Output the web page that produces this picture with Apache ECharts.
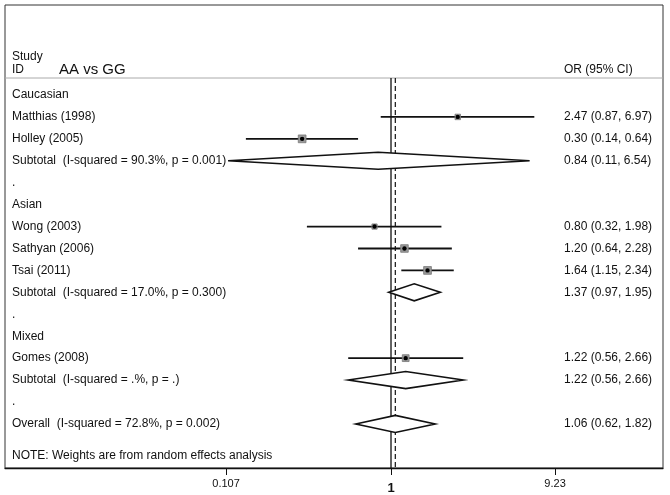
<!DOCTYPE html>
<html>
<head>
<meta charset="utf-8">
<script src="https://cdn.jsdelivr.net/npm/echarts@6/dist/echarts.min.js"></script>
<style>html,body{margin:0;padding:0;background:#fff}#c{width:670px;height:495px}</style>
</head>
<body>
<div id="c"></div>
<script>
// ---- data ----
const rowLabels = ['Caucasian','Matthias (1998)','Holley (2005)','Subtotal  (I-squared = 90.3%, p = 0.001)','.',
  'Asian','Wong (2003)','Sathyan (2006)','Tsai (2011)','Subtotal  (I-squared = 17.0%, p = 0.300)','.',
  'Mixed','Gomes (2008)','Subtotal  (I-squared = .%, p = .)','.','Overall  (I-squared = 72.8%, p = 0.002)'];
const rowTypes = ['head','study','study','pooled','blank','head','study','study','study','pooled','blank',
  'head','study','pooled','blank','pooled'];
const orValues = [null,2.47,0.30,0.84,null,null,0.80,1.20,1.64,1.37,null,null,1.22,1.22,null,1.06];
const ciLower  = [null,0.87,0.14,0.11,null,null,0.32,0.64,1.15,0.97,null,null,0.56,0.56,null,0.62];
const ciUpper  = [null,6.97,0.64,6.54,null,null,1.98,2.28,2.34,1.95,null,null,2.66,2.66,null,1.82];
const weights  = [null,11,22,null,null,null,10,21,22,null,null,null,17,null,null,null];
const tickValues = [0.107, 1, 9.23];
const tickLabels = ['0.107', '1', '9.23'];
const headerStudy = 'Study', headerId = 'ID', headerTitle = 'AA vs GG', headerEffect = 'OR (95% CI)';
const noteText = 'NOTE: Weights are from random effects analysis';

// ---- chart ----
const FONT = '"Liberation Sans", Arial, sans-serif';
const X_MIN = -5.2297, X_MAX = 3.685;
const Y_MIN = -4.104, Y_MAX = 17.01, SEP_ROW = -0.775;
const fmt = v => v.toFixed(2);
const chart = echarts.init(document.getElementById('c'));

function renderRow(params, api) {
  const i = params.dataIndex;
  const type = rowTypes[i];
  const yc = api.coord([0, i])[1];
  const left = api.coord([X_MIN, i])[0];
  const children = [];
  children.push({type:'text', x: left + 7, y: yc,
    style:{text: rowLabels[i], fontSize:12, fontFamily:FONT, fill:'#111', align:'left', verticalAlign:'middle'}});
  if (orValues[i] != null) {
    const xo = api.coord([Math.log(orValues[i]), i])[0];
    const xl = api.coord([Math.log(ciLower[i]), i])[0];
    const xh = api.coord([Math.log(ciUpper[i]), i])[0];
    if (type === 'study') {
      const s = 1.65 * Math.sqrt(weights[i]);
      children.push({type:'line', shape:{x1:xl, y1:yc, x2:xh, y2:yc}, style:{stroke:'#111', lineWidth:1.8}});
      children.push({type:'rect', shape:{x:xo - s/2, y:yc - s/2, width:s, height:s}, style:{fill:'#9a9a9a', stroke:'#777', lineWidth:0.8}});
      children.push({type:'circle', shape:{cx:xo, cy:yc, r:2.2}, style:{fill:'#000'}});
    } else {
      const h = 8.5;
      children.push({type:'polygon', shape:{points:[[xl,yc],[xo,yc-h],[xh,yc],[xo,yc+h]]},
        style:{fill:'#fff', stroke:'#111', lineWidth:1.6}});
    }
    children.push({type:'text', x: 564, y: yc,
      style:{text: fmt(orValues[i]) + ' (' + fmt(ciLower[i]) + ', ' + fmt(ciUpper[i]) + ')',
        fontSize:12, fontFamily:FONT, fill:'#111', align:'left', verticalAlign:'middle'}});
  }
  return {type:'group', children};
}

function renderRefs(params, api) {
  const overall = orValues[orValues.length - 1];
  const top0 = api.coord([0, SEP_ROW]);
  const bot0 = api.coord([0, Y_MAX]);
  const topD = api.coord([Math.log(overall), SEP_ROW]);
  const botD = api.coord([Math.log(overall), Y_MAX]);
  const sepL = api.coord([X_MIN, SEP_ROW]);
  const sepR = api.coord([X_MAX, SEP_ROW]);
  return {type:'group', children:[
    {type:'line', shape:{x1:sepL[0], y1:sepL[1], x2:sepR[0], y2:sepR[1]}, style:{stroke:'#aaa', lineWidth:1}},
    {type:'line', shape:{x1:top0[0], y1:top0[1], x2:bot0[0], y2:bot0[1]}, style:{stroke:'#111', lineWidth:1.3}},
    {type:'line', shape:{x1:topD[0], y1:topD[1], x2:botD[0], y2:botD[1]}, style:{stroke:'#111', lineWidth:1.2, lineDash:[5,3]}}
  ]};
}

chart.setOption({
  animation:false,
  backgroundColor:'#fff',
  grid:{left:5, right:7, top:5, bottom:27, show:true, borderColor:'#333', borderWidth:1, backgroundColor:'transparent'},
  xAxis:{type:'value', min:X_MIN, max:X_MAX,
    axisLine:{show:true, onZero:false, lineStyle:{color:'#111', width:1.3}},
    splitLine:{show:false},
    axisTick:{show:true, length:7, lineStyle:{color:'#111'}, customValues: tickValues.map(v => Math.log(v))},
    axisLabel:{show:true, margin:10, customValues: tickValues.map(v => Math.log(v)),
      formatter: v => {
        let best = 0;
        tickValues.forEach((t, k) => { if (Math.abs(Math.log(t) - v) < Math.abs(Math.log(tickValues[best]) - v)) best = k; });
        return tickValues[best] === 1 ? '{b|' + tickLabels[best] + '}' : tickLabels[best];
      },
      fontFamily:FONT, fontSize:11, color:'#111',
      rich:{b:{fontFamily:FONT, fontSize:13, fontWeight:'bold', color:'#111', padding:[4,0,0,0]}}}
  },
  yAxis:{type:'value', min:Y_MIN, max:Y_MAX, inverse:true, show:false},
  graphic:[
    {type:'text', left:12, top:51, style:{text:headerStudy, fontSize:12, fontFamily:FONT, fill:'#111'}},
    {type:'text', left:12, top:64, style:{text:headerId, fontSize:12, fontFamily:FONT, fill:'#111'}},
    {type:'text', left:59, top:62, style:{text:headerTitle, fontSize:15, fontFamily:FONT, fill:'#111'}},
    {type:'text', left:564, top:64, style:{text:headerEffect, fontSize:12, fontFamily:FONT, fill:'#111'}},
    {type:'text', left:12, top:450, style:{text:noteText, fontSize:12, fontFamily:FONT, fill:'#111'}}
  ],
  series:[
    {type:'custom', renderItem: renderRefs, data:[[0,0]], clip:false, silent:true, z:1},
    {type:'custom', renderItem: renderRow, data: rowLabels.map((_, i) => [i]), clip:false, silent:true, z:2,
      encode:{x:-1, y:0}}
  ]
});
</script>
</body>
</html>
